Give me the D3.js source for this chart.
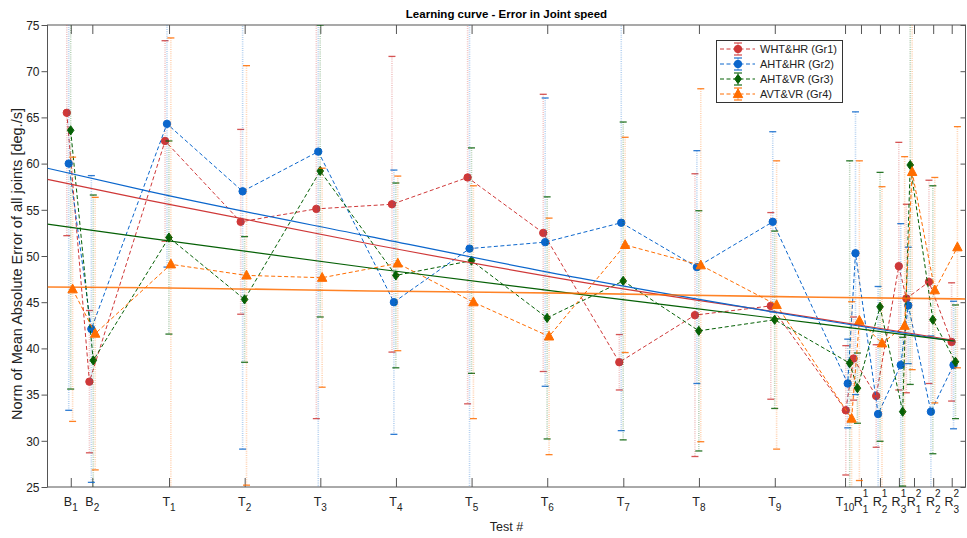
<!DOCTYPE html>
<html>
<head>
<meta charset="utf-8">
<script src="https://cdn.jsdelivr.net/npm/d3@7"></script>
<style>
body{margin:0;background:#fff;}
text{font-family:"Liberation Sans",Arial,Helvetica,sans-serif;}
</style>
</head>
<body>
<svg id="chart" width="967" height="538"></svg>
<script>
// categories (tex-like labels) and where the ticks sit on the x axis
var categories = ["B_1","B_2","T_1","T_2","T_3","T_4","T_5","T_6","T_7","T_8","T_9","T_10",
                  "R^1_1","R^1_2","R^1_3","R^2_1","R^2_2","R^2_3"];
var tickPos = [1.08,2.08,5.64,9.15,12.66,16.17,19.68,23.19,26.72,30.23,33.75,37.01,37.75,38.63,39.51,40.21,41.10,41.96];
// session positions of the measurements
var dataPos = [1.03,2.08,5.59,9.10,12.61,16.12,19.63,23.14,26.67,30.18,33.70,37.18,37.54,38.59,39.64,39.99,41.04,42.09];

var groups = ["WHT&HR (Gr1)","AHT&HR (Gr2)","AHT&VR (Gr3)","AVT&VR (Gr4)"];

var gr1Mean = [65.5,36.4,62.45,53.7,55.1,55.6,58.5,52.5,38.5,43.6,44.6,33.3,38.9,34.85,48.9,45.4,47.2,40.7];
var gr1Sd   = [13.3,7.7,10.85,10,22.7,16,24.5,15,3,15.3,10.1,7,4.5,5.55,13.4,10.2,11,6.4];
var gr2Mean = [60.0,42.1,64.3,57.0,61.3,45.0,50.8,51.5,53.6,48.8,53.7,36.2,50.3,32.9,38.2,44.65,33.15,38.2];
var gr2Sd   = [26.7,16.6,15.5,27.9,38,14.3,28,15.6,22.5,12.6,9.75,4.8,15.3,13.8,15.3,6.3,8.2,6.9];
var gr3Mean = [63.6,38.7,52.0,45.3,59.2,47.9,49.5,43.3,47.3,41.9,43.1,38.4,35.7,44.5,33.15,59.85,43.1,38.55];
var gr3Sd   = [28,17.9,10.45,6.8,15.8,10,12.2,13.1,17.2,13,9.6,21.9,3.8,14.55,8.05,23.75,14.5,6.15];
var gr4Mean = [46.4,41.6,49.1,47.9,47.65,49.2,45.0,41.3,51.2,49.0,44.7,32.4,43.0,40.55,42.45,59.1,46.3,50.95];
var gr4Sd   = [14.3,14.75,24.5,22.7,11.85,9.45,12.6,12.8,11.65,19.1,15.6,12.65,17.3,16.95,18.3,21.4,12.2,13.05];

// trend curves
var fitX = [0,4.76,14.97,24.71,35.85];
var fitEndX = [42.0,42.0,42.1,42.6];
var gr1Fit = [58.3,56.0,51.3,47.2,43.2,40.9];
var gr2Fit = [59.5,56.96,52.1,47.6,43.1,40.8];
var gr3Fit = [53.45,51.9,48.7,45.85,42.65,40.8];
var gr4Fit = [46.65,46.57,46.22,45.96,45.53,45.35];

var yTicks = [25,30,35,40,45,50,55,60,65,70,75];

var colors = ["#cf3838","#0b66cc","#056005","#ff6d00"];
var markers = ["circle","circle","diamond","triangle"];
var shift = [-0.135,-0.045,0.045,0.135];

var means = [gr1Mean,gr2Mean,gr3Mean,gr4Mean];
var sds = [gr1Sd,gr2Sd,gr3Sd,gr4Sd];
var fits = [gr1Fit,gr2Fit,gr3Fit,gr4Fit];

var svg = d3.select("#chart");
var L = 47.5, R = 965.5, T = 25, B = 487;
var x = d3.scaleLinear().domain([0,42.6]).range([L,R]);
var y = d3.scaleLinear().domain([25,75]).range([B,T]);

svg.append("defs").append("clipPath").attr("id","plotclip")
  .append("rect").attr("x",L).attr("y",T).attr("width",R-L).attr("height",B-T);

// axes
var axisColor = "#555";
svg.append("g").attr("transform","translate(0,"+B+")")
  .call(d3.axisBottom(x).tickValues(tickPos).tickSize(-9).tickFormat(""))
  .call(function(g){g.select(".domain").remove();g.selectAll("line").attr("stroke",axisColor);});
svg.append("g").attr("transform","translate(0,"+T+")")
  .call(d3.axisTop(x).tickValues(tickPos).tickSize(-9).tickFormat(""))
  .call(function(g){g.select(".domain").remove();g.selectAll("line").attr("stroke",axisColor);});
var yl = svg.append("g").attr("transform","translate("+L+",0)")
  .call(d3.axisLeft(y).tickValues(yTicks).tickSize(6).tickPadding(2))
  .call(function(g){g.select(".domain").remove();g.selectAll("line").attr("stroke",axisColor);});
yl.selectAll("text").attr("font-size",12).attr("fill","#222")
  .attr("font-family","'Liberation Sans',Arial,sans-serif").attr("dy","0.36em");
svg.append("g").attr("transform","translate("+R+",0)")
  .call(d3.axisRight(y).tickValues(yTicks).tickSize(-5).tickFormat(""))
  .call(function(g){g.select(".domain").remove();g.selectAll("line").attr("stroke",axisColor);});
svg.append("rect").attr("x",L).attr("y",T).attr("width",R-L).attr("height",B-T)
  .attr("fill","none").attr("stroke",axisColor).attr("stroke-width",1);

// x tick labels with sub/superscripts
categories.forEach(function(c,i){
  var m = c.match(/^([A-Z])(\^(\d+))?(_(\d+))?$/);
  var g = svg.append("g");
  var base = g.append("text").attr("x",0).attr("y",506).attr("font-size",12.5).attr("fill","#222").text(m[1]);
  var w = base.node().getComputedTextLength();
  var extra = 0;
  if(m[3]){
    var sp = g.append("text").attr("x",w).attr("y",497).attr("font-size",10).attr("fill","#222").text(m[3]);
    extra = Math.max(extra, sp.node().getComputedTextLength());
  }
  if(m[5]){
    var sb = g.append("text").attr("x",w).attr("y",m[3]?512.5:510.5).attr("font-size",10).attr("fill","#222").text(m[5]);
    extra = Math.max(extra, sb.node().getComputedTextLength());
  }
  g.attr("transform","translate("+(x(tickPos[i])-(w+extra)/2)+",0)");
});

function drawMarker(sel, type, cx, cy, col){
  if(type==="circle"){
    sel.append("circle").attr("cx",cx).attr("cy",cy).attr("r",3.7).attr("fill",col).attr("stroke",col);
  } else if(type==="diamond"){
    sel.append("path").attr("d","M"+cx+","+(cy-4.6)+"L"+(cx+3.3)+","+cy+"L"+cx+","+(cy+4.6)+"L"+(cx-3.3)+","+cy+"Z")
      .attr("fill",col).attr("stroke",col);
  } else {
    sel.append("path").attr("d","M"+cx+","+(cy-5.2)+"L"+(cx+4.7)+","+(cy+3.6)+"L"+(cx-4.7)+","+(cy+3.6)+"Z")
      .attr("fill",col).attr("stroke",col);
  }
}

var plot = svg.append("g").attr("clip-path","url(#plotclip)");

groups.forEach(function(name,k){
  var col = colors[k];
  var g = plot.append("g");
  var pts = dataPos.map(function(p,i){return {x:p+shift[k], m:means[k][i], s:sds[k][i]};});
  // error bars
  pts.forEach(function(d){
    var px = x(d.x);
    g.append("line").attr("x1",px).attr("x2",px).attr("y1",y(d.m+d.s)).attr("y2",y(d.m-d.s))
      .attr("stroke",col).attr("stroke-width",1.6).attr("stroke-dasharray","1,1.2").attr("opacity",0.3);
    [d.m+d.s, d.m-d.s].forEach(function(v){
      if(v<=75 && v>=25){
        g.append("line").attr("x1",px-3.5).attr("x2",px+3.5).attr("y1",y(v)).attr("y2",y(v))
          .attr("stroke",col).attr("stroke-width",1.3).attr("opacity",0.85);
      }
    });
  });
  // dashed connection
  g.append("path").datum(pts)
    .attr("d",d3.line().x(function(d){return x(d.x);}).y(function(d){return y(d.m);}))
    .attr("fill","none").attr("stroke",col).attr("stroke-width",1).attr("stroke-dasharray","4,2.5");
  pts.forEach(function(d){ drawMarker(g, markers[k], x(d.x), y(d.m), col); });
});

// trend curves
groups.forEach(function(name,k){
  var xs = fitX.concat([fitEndX[k]]);
  var pts = xs.map(function(v,i){return [v, fits[k][i]];});
  plot.append("path").datum(pts)
    .attr("d",d3.line().curve(d3.curveMonotoneX).x(function(d){return x(d[0]);}).y(function(d){return y(d[1]);}))
    .attr("fill","none").attr("stroke",colors[k]).attr("stroke-width",k===3?1.6:1.2).attr("opacity",k===3?0.85:1);
});

// legend
var lg = svg.append("g");
lg.append("rect").attr("x",716.5).attr("y",40.5).attr("width",126).attr("height",62)
  .attr("fill","#fff").attr("stroke","#333").attr("stroke-width",1);
groups.forEach(function(name,k){
  var ly = 49 + k*15;
  var col = colors[k];
  lg.append("line").attr("x1",720).attr("x2",755).attr("y1",ly).attr("y2",ly)
    .attr("stroke",col).attr("stroke-width",1).attr("stroke-dasharray","4,2.5");
  lg.append("line").attr("x1",738).attr("x2",738).attr("y1",ly-6).attr("y2",ly+6).attr("stroke",col).attr("opacity",0.6);
  [ly-6,ly+6].forEach(function(v){
    lg.append("line").attr("x1",734).attr("x2",742).attr("y1",v).attr("y2",v).attr("stroke",col).attr("stroke-width",1.3).attr("opacity",0.85);
  });
  drawMarker(lg, markers[k], 738, ly, col);
  lg.append("text").attr("x",760).attr("y",ly+4).attr("font-size",11).attr("fill","#222").text(name);
});

// titles
svg.append("text").attr("x",(L+R)/2).attr("y",18).attr("text-anchor","middle")
  .attr("font-size",11.5).attr("font-weight","bold").attr("fill","#000").text("Learning curve - Error in Joint speed");
svg.append("text").attr("x",(L+R)/2).attr("y",531).attr("text-anchor","middle")
  .attr("font-size",12.5).attr("fill","#222").text("Test #");
svg.append("text").attr("transform","translate(22,264) rotate(-90)").attr("text-anchor","middle")
  .attr("font-size",14.5).attr("fill","#222").text("Norm of Mean Absolute Error of all joints [deg./s]");
</script>
</body>
</html>
